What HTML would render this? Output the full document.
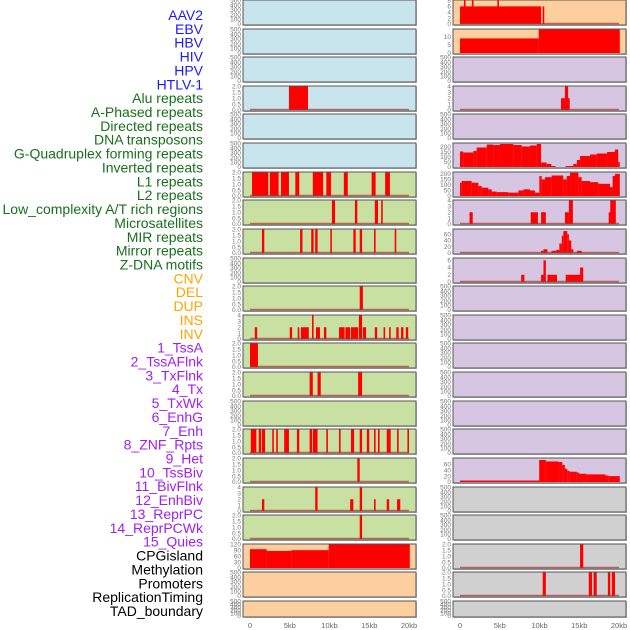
<!DOCTYPE html>
<html><head><meta charset="utf-8">
<style>
html,body{margin:0;padding:0;background:#fff;}
#wrap{position:relative;width:630px;height:630px;overflow:hidden;}
svg{position:absolute;left:0;top:0;}
.lbl{font-family:"Liberation Sans",sans-serif;font-size:14px;}
.tk{font-family:"Liberation Sans",sans-serif;font-size:6.5px;fill:#777;}
.ax{font-family:"Liberation Sans",sans-serif;font-size:7.5px;fill:#666;}
</style></head>
<body>
<div id="wrap">
<svg id="chart" width="630" height="630" xmlns="http://www.w3.org/2000/svg"></svg>
</div>
<script>
// ---- Row labels ----
const labels = ["AAV2","EBV","HBV","HIV","HPV","HTLV-1","Alu repeats","A-Phased repeats","Directed repeats","DNA transposons","G-Quadruplex forming repeats","Inverted repeats","L1 repeats","L2 repeats","Low_complexity A/T rich regions","Microsatellites","MIR repeats","Mirror repeats","Z-DNA motifs","CNV","DEL","DUP","INS","INV","1_TssA","2_TssAFlnk","3_TxFlnk","4_Tx","5_TxWk","6_EnhG","7_Enh","8_ZNF_Rpts","9_Het","10_TssBiv","11_BivFlnk","12_EnhBiv","13_ReprPC","14_ReprPCWk","15_Quies","CPGisland","Methylation","Promoters","ReplicationTiming","TAD_boundary"];
const labelGroups = [6,13,5,15,5];
const groupColors = ["#1a1aff","#17701a","#ffa500","#a020f0","#000000"];

// ---- X axis ----
const xTicks = [0,5,10,15,20];
const xTickLabels = ["0","5kb","10kb","15kb","20kb"];

// ---- Left column segment data [startKb, endKb, value] ----
const L_alu = [[4.9,7.3,2]];
const L_l1 = [[0.25,2.3,2],[2.5,3.6,2],[3.9,4.9,2],[5.7,6.2,2],[7.9,9.2,2],[9.6,10.2,2],[11.8,12.3,2],[15.3,15.8,2],[17,17.6,2]];
const L_p7 = [[10.3,10.7,2],[13.2,13.5,2],[15.7,16.1,2],[16.5,16.7,2]];
const L_p8 = [[1.5,1.8,2],[6.3,6.6,2],[7.7,8.0,2],[8.2,8.5,2],[10.1,10.3,2],[13.0,13.3,2],[13.8,14.1,2],[15.6,15.8,2],[18.2,18.4,2]];
const L_p10 = [[13.8,14.2,2]];
const L_p11 = [[0.6,0.9,2],[5.0,5.3,2],[6.0,6.2,2],[6.4,7.4,2],[7.8,8.0,4],[8.3,8.8,2],[9.3,9.6,2],[11.2,11.9,2],[12.0,12.6,2],[12.7,13.6,2],[13.7,14.1,4],[14.2,14.6,2],[15.7,16.0,2],[16.8,17.0,2],[17.5,17.7,2],[18.4,18.7,2],[19.0,19.3,2],[19.6,19.9,2]];
const L_p12 = [[0,1.0,2]];
const L_p13 = [[7.5,7.9,2],[8.5,8.9,2],[13.6,14.1,2]];
const L_p15 = [[0.1,0.8,2],[1.1,1.4,2],[1.5,1.9,2],[2.8,3.0,2],[3.3,3.5,2],[4.3,4.9,2],[5.9,6.2,2],[7.5,7.8,2],[7.9,8.5,2],[9.6,9.8,2],[11.2,11.4,2],[12.7,13.1,2],[13.8,14.1,2],[14.7,15.0,2],[15.6,15.8,2],[16.1,16.3,2],[17.2,17.7,2],[18.5,18.7,2],[19.8,20.0,2]];
const L_p16 = [[13.5,13.8,2]];
const L_p17 = [[1.5,1.8,2],[8.2,8.5,4],[12.6,13.0,2],[13.8,14.1,4],[15.6,15.8,2],[17.2,17.5,2],[18.5,18.9,2]];
const L_p18 = [[13.8,14.1,2]];
const L_cpg = [[0,2.1,96],[2.1,5.2,87],[5.2,9.9,91],[9.9,20.1,120]];

// ---- Right column segment data ----
const R_p0 = [[0,10.2,6],[0.5,0.7,8],[1.5,1.7,8],[4.7,4.9,8],[10.4,10.6,6]];
const R_p1 = [[0,9.9,9],[9.9,20.1,14.5]];
const R_p3 = [[12.7,13.8,2],[13.2,13.6,4]];
const R_p5 = [[0,0.42,155],[0.42,1.68,145],[1.68,2.1,160],[2.1,3.36,195],[3.36,4.19,225],[4.19,5.03,220],[5.03,6.71,230],[6.71,7.76,220],[7.76,8.8,205],[8.8,9.64,215],[9.64,10.2,230],[10.2,10.9,45],[10.9,11.5,30],[11.5,12.03,10],[13.3,14.25,10],[14.25,14.7,30],[14.7,15.1,70],[15.1,16.35,110],[16.35,17.2,125],[17.2,18.5,135],[18.5,19.5,150],[19.5,19.9,175],[19.9,20.1,50]];
const R_p6 = [[0,0.21,120],[0.21,1.47,135],[1.47,2.31,120],[2.31,2.73,90],[2.73,3.56,75],[3.56,3.98,60],[3.98,4.61,40],[4.61,6.08,35],[6.08,7.34,30],[7.34,7.97,50],[7.97,8.8,60],[8.8,9.43,50],[9.43,9.98,30],[9.98,10.27,180],[10.27,10.69,150],[10.69,11.53,170],[11.53,12.99,185],[12.99,13.42,150],[13.42,13.84,180],[13.84,14.89,210],[14.89,15.3,170],[15.3,16.35,135],[16.35,17.4,125],[17.4,18.87,110],[18.87,19.2,80],[19.2,19.5,180],[19.5,20.1,200]];
const R_p7 = [[1.2,1.6,2],[8.9,9.8,2],[10.2,10.8,2],[13.2,13.7,2],[13.7,14.2,4],[18.7,19.1,2],[18.9,19.6,4]];
const R_p8 = [[10.2,10.5,7],[10.5,11.0,12],[11.5,12.1,7],[12.1,12.5,10],[12.5,12.8,30],[12.8,13.0,55],[13.0,13.5,70],[13.5,13.7,60],[13.7,14.0,40],[14.0,14.25,12],[14.7,15.3,7]];
const R_p9 = [[7.7,8.1,2],[10.2,10.5,2],[10.5,10.8,6],[11.0,12.2,2],[13.3,15.1,2],[15.1,15.5,4]];
const R_p16 = [[0,9.96,5],[9.96,10.8,75],[10.8,12.4,70],[12.4,12.87,68],[12.87,13.2,58],[13.2,13.5,45],[13.5,13.8,38],[13.8,14.7,35],[14.7,14.97,32],[14.97,15.9,28],[15.9,18.3,26],[18.3,18.66,22],[18.66,20.1,20]];
const R_p19 = [[15.1,15.5,2]];
const R_p20 = [[10.4,10.8,2],[16.2,16.6,2],[16.8,17.2,2],[18.6,18.9,2],[19.1,19.5,2]];

// ---- Tick label sets ----
const T_empty = [0,100,200,300,400,500];
const T_two = [0,0.5,1,1.5,2];
const T_four = [0,1,2,3,4];

// ---- Panel configs: [segments, ymax, ticks, baseline] ----
const leftPanels = [
 [[],500,T_empty,false],[[],500,T_empty,false],[[],500,T_empty,false],[L_alu,2,T_two,true],
 [[],500,T_empty,false],[[],500,T_empty,false],[L_l1,2,T_two,true],[L_p7,2,T_two,true],
 [L_p8,2,T_two,true],[[],500,T_empty,false],[L_p10,2,T_two,true],[L_p11,4,T_four,true],
 [L_p12,2,T_two,true],[L_p13,2,T_two,true],[[],500,T_empty,false],[L_p15,2,T_two,true],
 [L_p16,2,T_two,true],[L_p17,4,T_four,true],[L_p18,2,T_two,true],[L_cpg,120,[0,30,60,90,120],false],
 [[],500,T_empty,false],[[],500,T_empty,false]
];
const rightPanels = [
 [R_p0,8,[0,2,4,6,8],true],[R_p1,14.5,[0,5,10],false],[[],500,T_empty,false],[R_p3,4,T_four,true],
 [[],500,T_empty,false],[R_p5,235,[0,50,100,150,200],false],[R_p6,212,[0,50,100,150,200],false],[R_p7,4,[0,1,2,3,4],true],
 [R_p8,75,[0,20,40,60],true],[R_p9,6.5,[0,2,4,6],true],[[],500,T_empty,false],[[],500,T_empty,false],
 [[],500,T_empty,false],[[],500,T_empty,false],[[],500,T_empty,false],[[],500,T_empty,false],
 [R_p16,80,[0,20,40,60],false],[[],500,T_empty,false],[[],500,T_empty,false],[R_p19,2,T_two,true],
 [R_p20,2,T_two,true],[[],500,T_empty,false]
];
const leftBg = ["#c8e4ec","#c8e4ec","#c8e4ec","#c8e4ec","#c8e4ec","#c8e4ec","#c8e1a2","#c8e1a2","#c8e1a2","#c8e1a2","#c8e1a2","#c8e1a2","#c8e1a2","#c8e1a2","#c8e1a2","#c8e1a2","#c8e1a2","#c8e1a2","#c8e1a2","#fecf9e","#fecf9e","#fecf9e"];
const rightBg = ["#fecf9e","#fecf9e","#d6c6e2","#d6c6e2","#d6c6e2","#d6c6e2","#d6c6e2","#d6c6e2","#d6c6e2","#d6c6e2","#d6c6e2","#d6c6e2","#d6c6e2","#d6c6e2","#d6c6e2","#d6c6e2","#d6c6e2","#d0d0d0","#d0d0d0","#d0d0d0","#d0d0d0","#d0d0d0"];

// ---- Layout ----
const NS = "http://www.w3.org/2000/svg";
const svg = document.getElementById('chart');
function mk(tag, attrs, parent){ const e=document.createElementNS(NS,tag); for(const k in attrs) e.setAttribute(k,attrs[k]); (parent||svg).appendChild(e); return e; }
const cols = [{x0:243,x1:416,z:250,pk:7.95},{x0:453,x1:626,z:460,pk:7.95}];
function xScale(col,kb){ return cols[col].z + kb*cols[col].pk; }
function panelTop(i){ return Math.round(i*28.62); }
function panelH(i){ return i===21 ? 16 : 25; }

// labels
let gi=0, cnt=0;
labels.forEach((t,i)=>{
  while(cnt>=labelGroups[gi]){ cnt=0; gi++; }
  cnt++;
  const el = mk('text',{x:203,y:15+i*13.86+5,'text-anchor':'end',class:'lbl',fill:groupColors[gi]});
  el.textContent=t;
  
  
});

function drawPanel(col, i, cfg, bg){
  const [segs,ymax,ticks,base]=cfg;
  const c=cols[col], top=panelTop(i), h=panelH(i);
  const g = mk('g',{});
  
  
  mk('rect',{x:c.x0+1,y:top+1,width:c.x1-c.x0,height:h,fill:'#999','fill-opacity':0.6},g);
  mk('rect',{x:c.x0,y:top,width:c.x1-c.x0,height:h,fill:bg,stroke:'#555','stroke-width':1},g);
  const bot = top+h-1, span = h-1.5;
  const yS = v => bot - v/ymax*span;
  segs.forEach(s=>{
    const x0=xScale(col,s[0]), x1=xScale(col,s[1]);
    const r = mk('rect',{x:x0,y:yS(s[2]),width:Math.max(1.5,x1-x0),height:bot-yS(s[2]),fill:'#ff0000'},g);
    
    
  });
  if(base){
    mk('line',{x1:xScale(col,0),x2:xScale(col,20),y1:bot-0.5,y2:bot-0.5,stroke:'#b03030','stroke-opacity':0.7,'stroke-width':1.5},g);
  }
  ticks.forEach(t=>{
    const tx = mk('text',{x:c.x0-2,y:yS(t)+2.2,'text-anchor':'end',class:'tk'},g);
    tx.textContent = (ticks===T_two) ? t.toFixed(1) : String(t);
  });
}
leftPanels.forEach((p,i)=>drawPanel(0,i,p,leftBg[i]));
rightPanels.forEach((p,i)=>drawPanel(1,i,p,rightBg[i]));

// x axis labels
[0,1].forEach(col=>{
  xTicks.forEach((t,k)=>{
    const tx = mk('text',{x:xScale(col,t),y:628,'text-anchor':'middle',class:'ax'});
    tx.textContent = xTickLabels[k];
    
    
  });
});
</script>
</body></html>
